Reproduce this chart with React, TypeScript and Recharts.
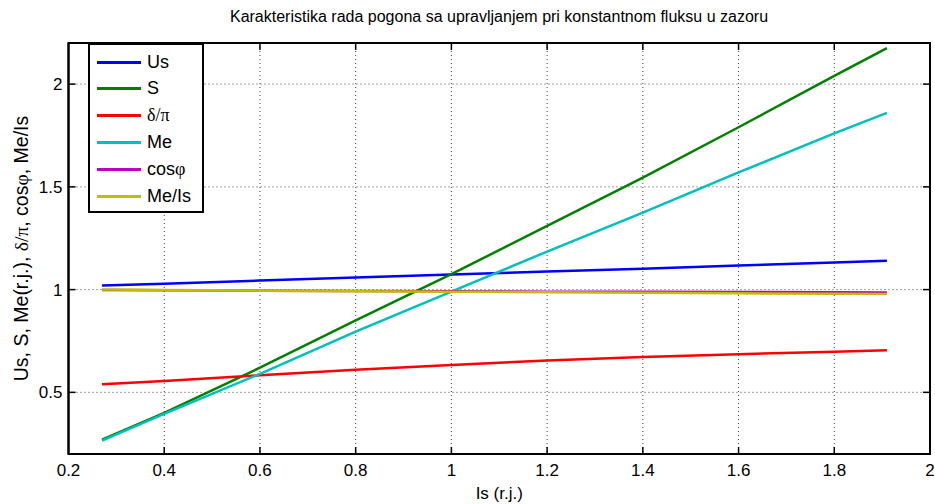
import { LineChart, Line, XAxis, YAxis, CartesianGrid } from "recharts"

// Is (r.j.) sample points
const isVals = [0.27, 0.4, 0.6, 0.8, 1.0, 1.2, 1.4, 1.6, 1.8, 1.91]
const us = [1.02, 1.029, 1.044, 1.059, 1.073, 1.088, 1.102, 1.117, 1.132, 1.14]
const s = [0.27, 0.4, 0.62, 0.85, 1.075, 1.31, 1.545, 1.79, 2.04, 2.175]
const deltaPi = [0.54, 0.555, 0.583, 0.61, 0.633, 0.655, 0.672, 0.686, 0.698, 0.705]
const me = [0.265, 0.395, 0.59, 0.795, 0.99, 1.185, 1.375, 1.57, 1.76, 1.86]
const cosPhi = [0.998, 0.997, 0.995, 0.993, 0.992, 0.99, 0.989, 0.988, 0.987, 0.986]
const meIs = [1.0, 0.998, 0.995, 0.992, 0.99, 0.987, 0.985, 0.982, 0.98, 0.978]

const xTicks = [0.2, 0.4, 0.6, 0.8, 1, 1.2, 1.4, 1.6, 1.8, 2]
const yTicks = [0.5, 1, 1.5, 2]

const series = [
  { key: "us", name: "Us", color: "#0000ff" },
  { key: "s", name: "S", color: "#008000" },
  { key: "deltaPi", name: "δ/π", color: "#ff0000" },
  { key: "me", name: "Me", color: "#00bfbf" },
  { key: "cosPhi", name: "cosφ", color: "#bf00bf" },
  { key: "meIs", name: "Me/Is", color: "#bfbf00" },
]

const data = isVals.map((x, i) => ({
  is: x,
  us: us[i],
  s: s[i],
  deltaPi: deltaPi[i],
  me: me[i],
  cosPhi: cosPhi[i],
  meIs: meIs[i],
}))

if (typeof document !== "undefined") document.body.style.margin = "0"

const FONT = "'Liberation Sans', Arial, Helvetica, sans-serif"
const SERIF = "'Liberation Serif', serif"

// plot box (matches chart margins below)
const W = 935
const H = 504
const M = { top: 43, right: 5, bottom: 0, left: 0 }
const Y_AXIS_W = 68.5
const X_AXIS_H = 50
const PLOT_TOP = M.top
const PLOT_RIGHT = W - M.right
const PLOT_BOTTOM = H - X_AXIS_H

const fmt = (v: number) => String(v)

function XTick({ x, y, payload }: any) {
  const inner = payload.value > 0.2 && payload.value < 2
  return (
    <g>
      {inner && (
        <g>
          <line x1={x} x2={x} y1={PLOT_BOTTOM} y2={PLOT_BOTTOM - 7} stroke="#000" strokeWidth={1.5} />
          <line x1={x} x2={x} y1={PLOT_TOP} y2={PLOT_TOP + 7} stroke="#000" strokeWidth={1.5} />
        </g>
      )}
      <text x={x} y={y} dy={12} textAnchor="middle" fontSize={17} fontFamily={FONT} fill="#000">
        {fmt(payload.value)}
      </text>
    </g>
  )
}

function YTick({ x, y, payload }: any) {
  return (
    <g>
      <line x1={Y_AXIS_W} x2={Y_AXIS_W + 7} y1={y} y2={y} stroke="#000" strokeWidth={1.5} />
      <line x1={PLOT_RIGHT - 7} x2={PLOT_RIGHT} y1={y} y2={y} stroke="#000" strokeWidth={1.5} />
      <text x={x} y={y} dy={6} textAnchor="end" fontSize={17} fontFamily={FONT} fill="#000">
        {fmt(payload.value)}
      </text>
    </g>
  )
}

function XLabel({ viewBox }: any) {
  const cx = viewBox.x + viewBox.width / 2
  return (
    <g>
      {/* axes box */}
      <rect
        x={Y_AXIS_W}
        y={PLOT_TOP}
        width={PLOT_RIGHT - Y_AXIS_W}
        height={PLOT_BOTTOM - PLOT_TOP}
        fill="none"
        stroke="#000"
        strokeWidth={2}
      />
      <text x={cx} y={499} textAnchor="middle" fontSize={17} fontFamily={FONT} fill="#000">
        Is (r.j.)
      </text>
    </g>
  )
}

function YLabel({ viewBox }: any) {
  const cx = 21
  const cy = viewBox.y + viewBox.height / 2
  return (
    <text
      x={cx}
      y={cy}
      transform={`rotate(-90 ${cx} ${cy})`}
      textAnchor="middle"
      dominantBaseline="central"
      fontSize={19.5}
      fontFamily={FONT}
      fill="#000"
    >
      Us, S, Me(r.j.), <tspan fontFamily={SERIF}>δ/π</tspan>, cos
      <tspan fontFamily={SERIF}>φ</tspan>, Me/Is
    </text>
  )
}

function ChartLegend() {
  return (
    <div
      style={{
        position: "absolute",
        left: 88,
        top: 43,
        width: 116,
        height: 170,
        border: "2px solid #000",
        background: "#fff",
        fontFamily: FONT,
        fontSize: 18,
        boxSizing: "border-box",
        zIndex: 2,
      }}
    >
      {series.map((sr, i) => (
        <div
          key={sr.key}
          style={{ position: "absolute", left: 7, top: 4 + i * 26.8, height: 26, display: "flex", alignItems: "center" }}
        >
          <div style={{ width: 44, height: 3, background: sr.color }} />
          <span style={{ marginLeft: 6, fontFamily: sr.key === "deltaPi" ? SERIF : FONT }}>
            {sr.key === "cosPhi" ? (
              <>
                cos<span style={{ fontFamily: SERIF }}>φ</span>
              </>
            ) : (
              sr.name
            )}
          </span>
        </div>
      ))}
    </div>
  )
}

export default function App() {
  return (
    <div style={{ position: "relative", width: W, height: H, background: "#fff" }}>
      <div
        style={{
          position: "absolute",
          left: 68,
          width: 862,
          top: 8,
          textAlign: "center",
          fontFamily: FONT,
          fontSize: 16,
        }}
      >
        Karakteristika rada pogona sa upravljanjem pri konstantnom fluksu u zazoru
      </div>
      <LineChart width={W} height={H} data={data} margin={M}>
        <CartesianGrid
          stroke="#444"
          strokeDasharray="1 3"
          verticalValues={xTicks}
          horizontalValues={yTicks}
        />
        <XAxis
          dataKey="is"
          type="number"
          domain={[0.2, 2]}
          ticks={xTicks}
          height={X_AXIS_H}
          tickSize={0}
          tickMargin={10}
          tickLine={false}
          tick={<XTick />}
          axisLine={{ stroke: "#000", strokeWidth: 2 }}
          label={<XLabel />}
        />
        <YAxis
          type="number"
          domain={[0.2, 2.2]}
          ticks={yTicks}
          width={Y_AXIS_W}
          tickSize={0}
          tickMargin={6}
          tickLine={false}
          tick={<YTick />}
          axisLine={{ stroke: "#000", strokeWidth: 2 }}
          label={<YLabel />}
        />
        {series.map((sr) => (
          <Line
            key={sr.key}
            type="linear"
            dataKey={sr.key}
            stroke={sr.color}
            strokeWidth={2.5}
            dot={false}
            isAnimationActive={false}
          />
        ))}
      </LineChart>
      <ChartLegend />
    </div>
  )
}
